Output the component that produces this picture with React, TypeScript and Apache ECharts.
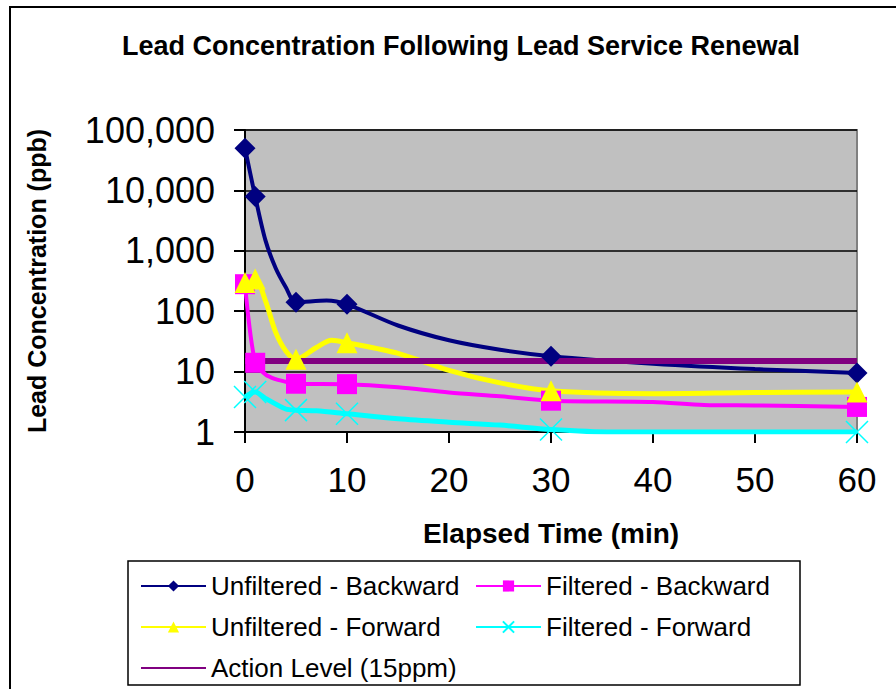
import React, { useEffect, useRef } from "react";
import * as echarts from "echarts";

// Elapsed time (min) and lead concentration (ppb)
const markerTimes = [0, 1, 5, 10, 30, 60];

const unfBackTimes = [0, 1, 2, 3, 4, 5, 8, 10, 15, 20, 25, 30, 40, 50, 60];
const unfBackValues = [50000, 7900, 1500, 520, 250, 140, 150, 130, 58, 33, 23, 18, 13.5, 11, 9.5];

const filBackTimes = [0, 1, 2, 3, 4, 5, 10, 15, 20, 25, 30, 40, 45, 50, 60];
const filBackValues = [280, 14, 9, 7.5, 6.8, 6.3, 6.2, 5.5, 4.5, 3.9, 3.3, 3.15, 2.8, 2.75, 2.6];

const unfFwdTimes = [0, 1, 2, 3, 4, 5, 7, 8.5, 10, 15, 20, 25, 30, 40, 50, 60];
const unfFwdValues = [300, 340, 150, 45, 22, 16, 25, 33, 30, 20, 10.5, 6.5, 4.8, 4.3, 4.5, 4.6];

const filFwdTimes = [0, 1, 2, 4, 5, 7, 10, 15, 20, 25, 30, 36, 60];
const filFwdValues = [3.8, 4.6, 3.6, 2.4, 2.3, 2.25, 2.0, 1.65, 1.45, 1.3, 1.1, 1.0, 1.0];

const actionTimes = [0, 60];
const actionValues = [15, 15];

const seriesNames = [
  "Unfiltered - Backward",
  "Filtered - Backward",
  "Unfiltered - Forward",
  "Filtered - Forward",
  "Action Level (15ppm)",
];

const xTicks = { min: 0, max: 60, interval: 10 };
const yRange = { min: 1, max: 100000 };

const FONT = "'Liberation Sans', Arial, Helvetica, sans-serif";
const CROSS = "path://M0,0L10,10M10,0L0,10";

function build(times: number[], values: number[], marked: boolean) {
  return times.map((t, i) => {
    const item: any = { value: [t, values[i]] };
    if (!marked || !markerTimes.includes(t)) item.symbol = "none";
    return item;
  });
}

export default function App() {
  const ref = useRef<HTMLDivElement>(null);
  useEffect(() => {
    if (!ref.current) return;
    const chart = echarts.init(ref.current, null, { renderer: "svg" });
    const lineSeries = (
      name: string,
      color: string,
      symbol: string,
      size: number,
      width: number,
      data: any[],
      extra: any = {}
    ) => ({
      name,
      type: "line",
      data,
      smooth: 0.3,
      symbol,
      symbolSize: size,
      showSymbol: true,
      lineStyle: { color, width },
      itemStyle: { color },
      emphasis: { disabled: true },
      ...extra,
    });
    const legendBase = {
      orient: "vertical",
      top: 568,
      itemWidth: 65,
      itemHeight: 14,
      itemGap: 15,
      selectedMode: false,
      lineStyle: { width: 2 },
      textStyle: { fontSize: 26, color: "#000", fontFamily: FONT },
    };
    chart.setOption({
      animation: false,
      backgroundColor: "#ffffff",
      textStyle: { fontFamily: FONT },
      graphic: [
        {
          type: "rect",
          shape: { x: 10, y: 7, width: 900, height: 700 },
          style: { fill: "none", stroke: "#000", lineWidth: 2 },
          z: -10,
        },
        {
          type: "text",
          x: 461,
          y: 32,
          style: {
            text: "Lead Concentration Following Lead Service Renewal",
            fontSize: 27,
            fontWeight: "bold",
            fontFamily: FONT,
            fill: "#000",
            align: "center",
            verticalAlign: "top",
          },
        },
        {
          type: "rect",
          shape: { x: 128, y: 561, width: 672, height: 124 },
          style: { fill: "#fff", stroke: "#000", lineWidth: 1.5 },
          z: -5,
        },
      ],
      grid: {
        left: 245,
        top: 130,
        width: 612,
        height: 302,
        show: true,
        backgroundColor: "#c0c0c0",
        borderColor: "#808080",
        borderWidth: 2,
      },
      legend: [
        {
          ...legendBase,
          data: [
            seriesNames[0],
            seriesNames[2],
            { name: seriesNames[4], itemStyle: { opacity: 0 } },
          ],
          left: 135,
        },
        {
          ...legendBase,
          data: [seriesNames[1], seriesNames[3]],
          left: 470,
        },
      ],
      xAxis: {
        type: "value",
        min: xTicks.min,
        max: xTicks.max,
        interval: xTicks.interval,
        axisLine: { show: true, lineStyle: { color: "#000", width: 2 } },
        axisTick: { show: true, length: 11, lineStyle: { color: "#000", width: 2 } },
        axisLabel: { fontSize: 35, color: "#000", fontFamily: FONT, margin: 30 },
        splitLine: { show: false },
        name: "Elapsed Time (min)",
        nameLocation: "middle",
        nameGap: 87,
        nameTextStyle: { fontSize: 28, fontWeight: "bold", color: "#000", fontFamily: FONT },
      },
      yAxis: {
        type: "log",
        logBase: 10,
        min: yRange.min,
        max: yRange.max,
        axisLine: { show: true, lineStyle: { color: "#000", width: 2 } },
        axisTick: { show: true, length: 11, lineStyle: { color: "#000", width: 2 } },
        axisLabel: {
          fontSize: 36,
          color: "#000",
          fontFamily: FONT,
          margin: 30,
          formatter: (v: number) => Math.round(v).toLocaleString("en-US"),
        },
        splitLine: { show: true, lineStyle: { color: "#000", width: 1.5 } },
        name: "Lead Concentration (ppb)",
        nameLocation: "middle",
        nameRotate: 90,
        nameGap: 196,
        nameTextStyle: { fontSize: 25, fontWeight: "bold", color: "#000", fontFamily: FONT },
      },
      series: [
        lineSeries(seriesNames[0], "#000080", "diamond", 21, 4, build(unfBackTimes, unfBackValues, true)),
        lineSeries(seriesNames[1], "#ff00ff", "rect", 20, 4, build(filBackTimes, filBackValues, true)),
        lineSeries(seriesNames[2], "#ffff00", "triangle", 21, 5, build(unfFwdTimes, unfFwdValues, true)),
        lineSeries(seriesNames[3], "#00ffff", CROSS, 22, 5, build(filFwdTimes, filFwdValues, true), {
          itemStyle: { color: "#00ffff", borderColor: "#00ffff", borderWidth: 1.5 },
        }),
        lineSeries(seriesNames[4], "#800080", "none", 0, 6, build(actionTimes, actionValues, false), {
          showSymbol: false,
          smooth: false,
        }),
      ],
    });
    return () => chart.dispose();
  }, []);
  return (
    <div
      ref={ref}
      style={{ position: "fixed", left: 0, top: 0, width: 896, height: 689 }}
    />
  );
}
